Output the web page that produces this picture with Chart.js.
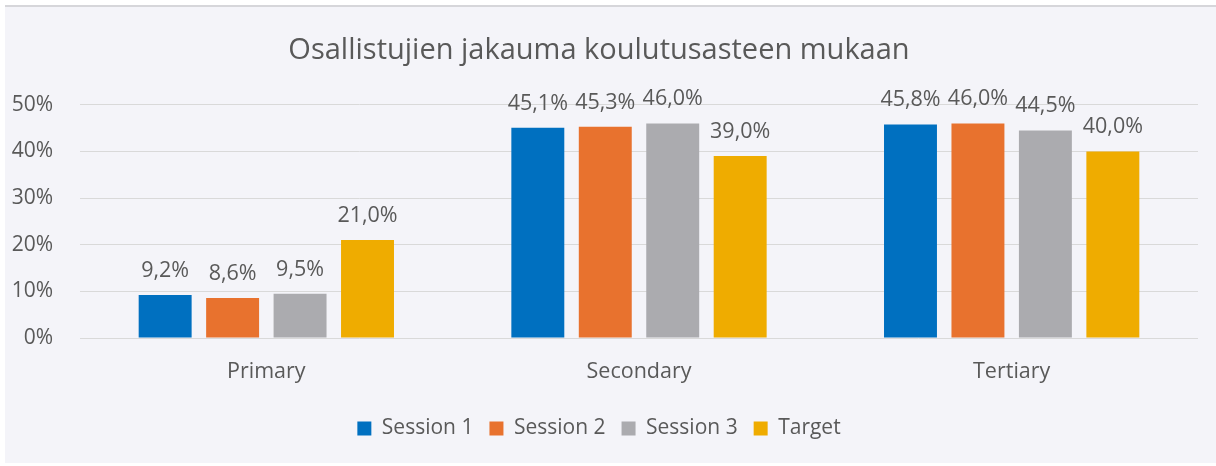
<!DOCTYPE html>
<html>
<head>
<meta charset="utf-8">
<script src="https://cdn.jsdelivr.net/npm/chart.js@4.4.1/dist/chart.umd.min.js"></script>
<style>
  html, body { margin: 0; padding: 0; background: #ffffff; }
  #wrap { width: 1216px; height: 466px; }
</style>
</head>
<body>
<div id="wrap"><canvas id="chart" width="1216" height="466"></canvas></div>
<script>
// chart values (percent)
const categories = ['Primary', 'Secondary', 'Tertiary'];
const seriesNames = ['Session 1', 'Session 2', 'Session 3', 'Target'];
const session1 = [9.2, 45.1, 45.8];
const session2 = [8.6, 45.3, 46.0];
const session3 = [9.5, 46.0, 44.5];
const target = [21.0, 39.0, 40.0];
const yTicks = [0, 10, 20, 30, 40, 50];

const colors = ['#0070C0', '#E8722E', '#ABABAF', '#EFAC00'];
const textColor = '#595959';
const fontFamily = "'Open Sans', 'Noto Sans', sans-serif";

// panel background with thin top border
const panelBg = {
    id: 'panelBg',
    beforeDraw(chart) {
        const ctx = chart.ctx;
        ctx.save();
        ctx.fillStyle = '#F4F4F9';
        ctx.fillRect(5, 6, chart.width - 5, chart.height - 9);
        ctx.fillStyle = '#D6D6DA';
        ctx.fillRect(5, 5, chart.width - 5, 2);
        ctx.restore();
    }
};

// value labels above the bars, with comma decimals
const valueLabels = {
    id: 'valueLabels',
    afterDatasetsDraw(chart) {
        const ctx = chart.ctx;
        ctx.save();
        ctx.fillStyle = textColor;
        ctx.font = "21.5px " + fontFamily;
        ctx.textAlign = 'center';
        ctx.textBaseline = 'alphabetic';
        chart.data.datasets.forEach((ds, i) => {
            const meta = chart.getDatasetMeta(i);
            meta.data.forEach((bar, j) => {
                const txt = ds.data[j].toFixed(1).replace('.', ',') + '%';
                ctx.fillText(txt, bar.x, bar.y - 18);
            });
        });
        ctx.restore();
    }
};

const seriesData = [session1, session2, session3, target];

new Chart(document.getElementById('chart'), {
    type: 'bar',
    data: {
        labels: categories,
        datasets: seriesNames.map((name, i) => ({
            label: name,
            data: seriesData[i],
            backgroundColor: colors[i],
            borderWidth: 0,
            categoryPercentage: 0.724,
            barPercentage: 0.785
        }))
    },
    options: {
        responsive: false,
        animation: false,
        layout: {
            padding: { top: 6, bottom: 17, left: 0, right: 18 }
        },
        scales: {
            x: {
                grid: { display: false, drawTicks: false },
                border: { display: false },
                ticks: {
                    color: textColor,
                    padding: 21,
                    font: { size: 21.5, family: fontFamily }
                },
                afterFit(s) { s.height = 64; }
            },
            y: {
                min: 0,
                max: 50,
                afterBuildTicks(s) { s.ticks = yTicks.map(v => ({ value: v })); },
                grid: { color: '#D9D9D9', lineWidth: 1, drawTicks: false },
                border: { display: false },
                ticks: {
                    color: textColor,
                    padding: 27,
                    font: { size: 21, family: fontFamily },
                    callback: v => v + '%'
                },
                afterFit(s) { s.width = 80; }
            }
        },
        plugins: {
            title: {
                display: true,
                text: 'Osallistujien jakauma koulutusasteen mukaan',
                color: textColor,
                font: { size: 29, weight: 'normal', family: fontFamily },
                padding: { top: 27, bottom: 37 }
            },
            legend: {
                position: 'bottom',
                labels: {
                    color: textColor,
                    boxWidth: 14,
                    boxHeight: 14,
                    padding: 16,
                    font: { size: 21, family: fontFamily }
                }
            },
            tooltip: { enabled: false }
        }
    },
    plugins: [panelBg, valueLabels]
});
</script>
</body>
</html>
